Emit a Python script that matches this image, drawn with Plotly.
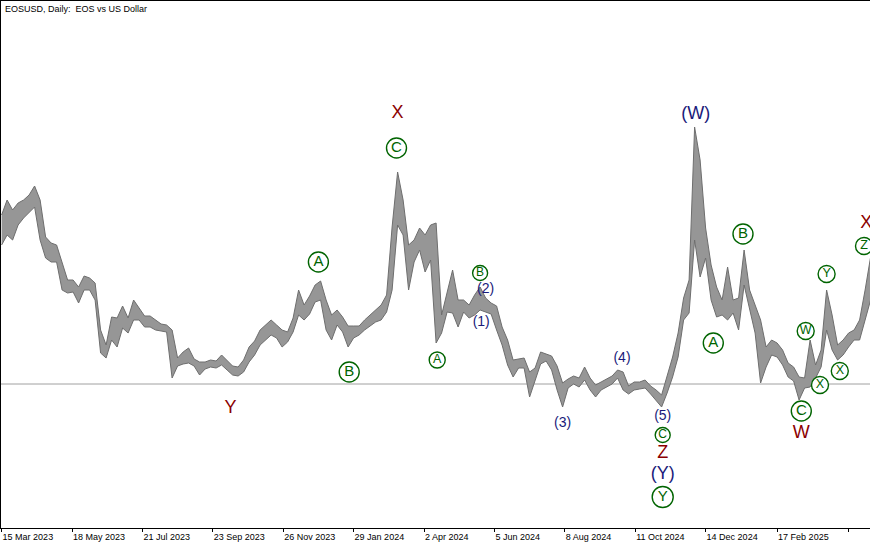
import pandas as pd
import plotly.graph_objects as go

start_day = "2023-03-15"
highs = [
    1.010, 1.055, 1.025, 1.046, 1.055, 1.070, 1.097, 1.055, 0.944, 0.926,
    0.920, 0.869, 0.815, 0.815, 0.794, 0.827, 0.821, 0.806, 0.665, 0.620,
    0.704, 0.701, 0.737, 0.701, 0.755, 0.731, 0.707, 0.707, 0.695, 0.683,
    0.680, 0.665, 0.581, 0.599, 0.611, 0.578, 0.569, 0.569, 0.575, 0.572,
    0.590, 0.575, 0.557, 0.554, 0.575, 0.614, 0.632, 0.665, 0.680, 0.695,
    0.680, 0.665, 0.659, 0.701, 0.785, 0.740, 0.767, 0.800, 0.812, 0.755,
    0.710, 0.725, 0.704, 0.677, 0.677, 0.677, 0.695, 0.710, 0.725, 0.740,
    0.770, 0.974, 1.139, 1.055, 0.920, 0.935, 0.971, 0.950, 0.980, 0.986,
    0.710, 0.779, 0.845, 0.755, 0.755, 0.740, 0.770, 0.794, 0.761, 0.746,
    0.737, 0.674, 0.635, 0.575, 0.578, 0.581, 0.539, 0.551, 0.599, 0.593,
    0.587, 0.557, 0.506, 0.518, 0.527, 0.521, 0.554, 0.521, 0.500, 0.509,
    0.518, 0.527, 0.545, 0.539, 0.497, 0.509, 0.509, 0.515, 0.497, 0.485,
    0.470, 0.524, 0.584, 0.656, 0.761, 0.815, 1.274, 1.175, 0.971, 0.860,
    0.794, 0.755, 0.854, 0.755, 0.761, 0.905, 0.785, 0.740, 0.695, 0.614,
    0.635, 0.626, 0.605, 0.566, 0.554, 0.524, 0.521, 0.635, 0.560, 0.605,
    0.785, 0.710, 0.620, 0.635, 0.656, 0.665, 0.695, 0.785, 0.884,
]
lows = [
    0.920, 0.950, 0.935, 0.980, 1.001, 1.019, 1.034, 0.935, 0.881, 0.869,
    0.869, 0.785, 0.776, 0.779, 0.746, 0.785, 0.785, 0.755, 0.596, 0.581,
    0.635, 0.614, 0.671, 0.656, 0.695, 0.695, 0.674, 0.674, 0.665, 0.662,
    0.659, 0.521, 0.557, 0.563, 0.566, 0.557, 0.530, 0.548, 0.554, 0.551,
    0.560, 0.545, 0.530, 0.527, 0.539, 0.569, 0.590, 0.620, 0.635, 0.650,
    0.641, 0.614, 0.629, 0.659, 0.710, 0.695, 0.713, 0.749, 0.755, 0.665,
    0.635, 0.680, 0.659, 0.614, 0.641, 0.650, 0.665, 0.677, 0.689, 0.695,
    0.719, 0.785, 0.980, 0.950, 0.785, 0.869, 0.905, 0.839, 0.875, 0.626,
    0.656, 0.719, 0.716, 0.674, 0.719, 0.701, 0.710, 0.725, 0.719, 0.713,
    0.665, 0.620, 0.560, 0.524, 0.551, 0.551, 0.464, 0.515, 0.563, 0.572,
    0.545, 0.485, 0.434, 0.491, 0.503, 0.494, 0.515, 0.485, 0.464, 0.485,
    0.494, 0.503, 0.521, 0.485, 0.473, 0.485, 0.488, 0.491, 0.473, 0.455,
    0.434, 0.476, 0.524, 0.584, 0.695, 0.716, 0.935, 0.824, 0.881, 0.755,
    0.704, 0.710, 0.695, 0.716, 0.665, 0.800, 0.725, 0.656, 0.506, 0.554,
    0.590, 0.584, 0.560, 0.524, 0.512, 0.455, 0.491, 0.494, 0.521, 0.554,
    0.665, 0.605, 0.575, 0.590, 0.614, 0.635, 0.635, 0.695, 0.755,
]
level_price = 0.503

tick_dates = ["2023-03-15", "2023-05-18", "2023-07-21", "2023-09-23", "2023-11-26",
              "2024-01-29", "2024-04-02", "2024-06-05", "2024-08-08", "2024-10-11",
              "2024-12-14", "2025-02-17", "2025-04-23"]
tick_labels = ["15 Mar 2023", "18 May 2023", "21 Jul 2023", "23 Sep 2023", "26 Nov 2023",
               "29 Jan 2024", "2 Apr 2024", "5 Jun 2024", "8 Aug 2024", "11 Oct 2024",
               "14 Dec 2024", "17 Feb 2025", "23 Apr 2025"]

# circled wave labels (big and small ones together)
circle_dates = ["2024-03-08", "2023-12-28", "2024-01-25", "2024-11-05",
                "2025-01-17", "2024-12-21", "2025-03-11",
                "2024-04-14", "2024-05-23", "2024-11-05", "2025-03-15",
                "2025-04-03", "2025-03-28", "2025-04-15", "2025-05-07"]
circle_prices = [1.211, 0.869, 0.539, 0.164, 0.953, 0.626, 0.422,
                 0.575, 0.836, 0.350, 0.662, 0.833, 0.500, 0.542, 0.917]
circle_text = ["C", "A", "B", "Y", "B", "A", "C",
               "A", "B", "C", "W", "Y", "X", "X", "Z"]
circle_sizes = [20, 20, 20, 21, 20, 20, 20,
                16, 15, 15, 17, 17, 17, 17, 17]
circle_font = [15, 15, 15, 15, 15, 15, 15,
               12.5, 12, 12, 12.5, 12.5, 12.5, 12.5, 12.5]

red_dates = ["2024-03-09", "2023-10-09", "2024-11-05", "2025-03-11", "2025-05-09"]
red_prices = [1.316, 0.431, 0.296, 0.356, 0.986]
red_text = ["X", "Y", "Z", "W", "X"]

navy_big_dates = ["2024-12-05", "2024-11-05"]
navy_big_prices = [1.313, 0.233]
navy_big_text = ["(W)", "(Y)"]

navy_dates = ["2024-05-24", "2024-05-28", "2024-08-06", "2024-09-29", "2024-11-05"]
navy_prices = [0.689, 0.788, 0.386, 0.581, 0.407]
navy_text = ["(1)", "(2)", "(3)", "(4)", "(5)"]

GREEN = "#006400"
RED = "#8b0000"
NAVY = "#1a1a7a"

dates = pd.date_range(start_day, periods=len(highs), freq="5D")

fig = go.Figure()
fig.add_trace(go.Scatter(x=dates, y=highs, mode="lines",
                         line=dict(color="#6e6e6e", width=1), hoverinfo="skip"))
fig.add_trace(go.Scatter(x=dates, y=lows, mode="lines", fill="tonexty",
                         fillcolor="#969696", line=dict(color="#6e6e6e", width=1),
                         hoverinfo="skip"))

fig.add_hline(y=level_price, line=dict(color="#a0a0a0", width=1), layer="below")

fig.add_trace(go.Scatter(
    x=circle_dates, y=circle_prices, text=circle_text,
    mode="markers+text", textposition="middle center",
    marker=dict(symbol="circle", size=circle_sizes, color="white", opacity=1,
                line=dict(color=GREEN, width=1.4)),
    textfont=dict(family="Liberation Sans", size=circle_font, color=GREEN)))
fig.add_trace(go.Scatter(
    x=red_dates, y=red_prices, text=red_text, mode="text",
    textposition="middle center",
    textfont=dict(family="Liberation Sans", size=18, color=RED)))
fig.add_trace(go.Scatter(
    x=navy_big_dates, y=navy_big_prices, text=navy_big_text, mode="text",
    textposition="middle center",
    textfont=dict(family="Liberation Sans", size=18, color=NAVY)))
fig.add_trace(go.Scatter(
    x=navy_dates, y=navy_prices, text=navy_text, mode="text",
    textposition="middle center",
    textfont=dict(family="Liberation Sans", size=14, color=NAVY)))

fig.add_annotation(text="EOSUSD, Daily:  EOS vs US Dollar", xref="paper", yref="paper",
                   x=0, y=1, xanchor="left", yanchor="top", xshift=2, yshift=-1,
                   showarrow=False, font=dict(family="Liberation Sans", size=9, color="black"))

fig.update_layout(
    width=870, height=545,
    margin=dict(l=1, r=0, t=1, b=17),
    paper_bgcolor="white", plot_bgcolor="white",
    showlegend=False,
    xaxis=dict(
        range=["2023-03-14 11:00", "2025-05-12 11:00"],
        tickvals=tick_dates, ticktext=tick_labels,
        ticks="outside", ticklen=3, tickcolor="black", tickwidth=1,
        ticklabelposition="outside right",
        tickfont=dict(family="Liberation Sans", size=9, color="black"),
        showgrid=False, zeroline=False,
        showline=True, linecolor="black", linewidth=1, mirror=True,
    ),
    yaxis=dict(
        range=[0.071, 1.652],
        showticklabels=False, ticks="", showgrid=False, zeroline=False,
        showline=True, linecolor="black", linewidth=1,
    ),
)

fig.write_html("out.html", config={"displayModeBar": False},
               post_script="document.body.style.margin='0px';")
